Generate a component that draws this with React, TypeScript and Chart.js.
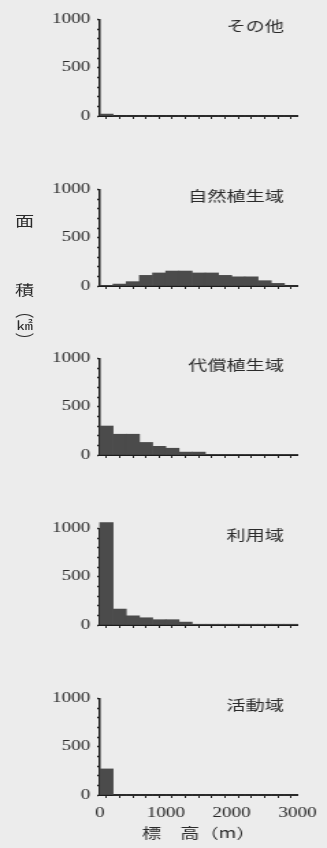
import React, { useEffect, useRef } from 'react';
import { Chart, registerables } from 'chart.js';

Chart.register(...registerables);

// Elevation bins (m), 200 m wide, from 0 to 3000 m
const binStarts = [0, 200, 400, 600, 800, 1000, 1200, 1400, 1600, 1800, 2000, 2200, 2400, 2600, 2800];
const binWidth = 200;
const xMax = 3000;

// Area (km²) per elevation bin for each land-use class
const otherArea = [20, 0, 0, 0, 0, 0, 0, 0, 0, 0, 0, 0, 0, 0, 0];
const naturalVegArea = [5, 20, 45, 110, 135, 155, 155, 135, 135, 110, 95, 95, 55, 27, 0];
const substituteVegArea = [300, 215, 215, 130, 90, 70, 30, 30, 5, 5, 5, 5, 5, 5, 5];
const usedArea = [1060, 165, 95, 75, 55, 55, 30, 8, 8, 8, 8, 8, 8, 8, 8];
const activityArea = [270, 0, 0, 0, 0, 0, 0, 0, 0, 0, 0, 0, 0, 0, 0];

const panelNames = ['その他', '自然植生域', '代償植生域', '利用域', '活動域'];
const panelValues = [otherArea, naturalVegArea, substituteVegArea, usedArea, activityArea];

const yTickLabels = [0, 500, 1000];
const xTickLabels = [0, 1000, 2000, 3000];
const xAxisTitle = '標　高（m）';
const yAxisTitleChars = ['面', '積', '︵', '㎢', '︶'];

// Layout
const STRETCH = 1.368;
const W = 239;
const PANEL_H = 160;
const panelTops = [6, 176, 345, 515, 685];
const yTitleTops = [220, 289, 310, 325, 339];

const BG = '#ececec';
const BAR = '#4b4b4b';
const AXIS = '#1c1c1c';
const TEXT = '#2a2a2a';
const SERIF = '"Liberation Serif", "DejaVu Serif", serif';
const CJK = '"Noto Sans CJK JP", "Noto Sans", sans-serif';

const panelLabel = {
  id: 'panelLabel',
  afterDraw(chart: any, _args: any, opts: any) {
    const { ctx, chartArea } = chart;
    ctx.save();
    ctx.font = `14px ${CJK}`;
    ctx.fillStyle = TEXT;
    ctx.textAlign = 'right';
    ctx.textBaseline = 'middle';
    ctx.fillText(opts.text, chartArea.right - 10, chartArea.top + 6);
    ctx.restore();
  },
};

function Panel({ name, values, showX, top }: { name: string; values: number[]; showX: boolean; top: number }) {
  const ref = useRef<HTMLCanvasElement>(null);
  useEffect(() => {
    if (!ref.current) return;
    const chart = new Chart(ref.current, {
      type: 'bar',
      data: {
        datasets: [
          {
            data: binStarts.map((s, i) => ({ x: s + binWidth / 2, y: values[i] })),
            backgroundColor: BAR,
            borderWidth: 0,
            barPercentage: 1,
            categoryPercentage: 1,
            clip: false as any,
          },
        ],
      },
      options: {
        responsive: false,
        animation: false,
        events: [],
        layout: { padding: { top: 10, right: 21.5, left: 0, bottom: 0 } },
        plugins: {
          legend: { display: false },
          tooltip: { enabled: false },
          panelLabel: { text: name },
        } as any,
        scales: {
          x: {
            type: 'linear',
            min: 0,
            max: xMax,
            offset: false,
            afterFit: (s: any) => {
              s.height = 50;
            },
            ticks: {
              stepSize: binWidth,
              autoSkip: false,
              maxRotation: 0,
              padding: 7,
              color: TEXT,
              font: { family: SERIF, size: 14 },
              callback: (v: any) => (showX && xTickLabels.includes(Number(v)) ? String(v) : ''),
            },
            grid: { drawOnChartArea: false, tickLength: 3, color: AXIS, tickWidth: 1 },
            border: { color: AXIS, width: 2 },
            title: {
              display: showX,
              text: xAxisTitle,
              color: TEXT,
              font: { family: CJK, size: 14 },
              padding: { top: 0, bottom: 4 },
            },
          },
          y: {
            min: 0,
            max: 1000,
            afterFit: (s: any) => {
              s.width = 73;
            },
            ticks: {
              stepSize: 100,
              autoSkip: false,
              padding: 5,
              color: TEXT,
              font: { family: SERIF, size: 14 },
              callback: (v: any) => (yTickLabels.includes(Number(v)) ? String(v) : ''),
            },
            grid: { drawOnChartArea: false, tickLength: 2, color: AXIS, tickWidth: 1.5 },
            border: { color: AXIS, width: 1.5 },
          },
        },
      },
      plugins: [panelLabel as any],
    });
    return () => chart.destroy();
  }, [name, values, showX]);
  return (
    <canvas
      ref={ref}
      width={W}
      height={PANEL_H}
      style={{ position: 'absolute', left: 0, top, width: W, height: PANEL_H }}
    />
  );
}

export default function App() {
  return (
    <div
      style={{
        position: 'absolute',
        left: 0,
        top: 0,
        width: W,
        height: 848,
        background: BG,
        transform: `scaleX(${STRETCH})`,
        transformOrigin: '0 0',
        overflow: 'hidden',
      }}
    >
      {panelNames.map((name, i) => (
        <Panel key={name} name={name} values={panelValues[i]} showX={i === panelNames.length - 1} top={panelTops[i]} />
      ))}
      {yAxisTitleChars.map((ch, i) => (
        <div
          key={i}
          style={{
            position: 'absolute',
            left: 18,
            top: yTitleTops[i],
            transform: 'translate(-50%, -50%)',
            font: `${ch === '㎢' ? 12 : 14}px ${CJK}`,
            color: TEXT,
            lineHeight: 1,
          }}
        >
          {ch}
        </div>
      ))}
    </div>
  );
}
